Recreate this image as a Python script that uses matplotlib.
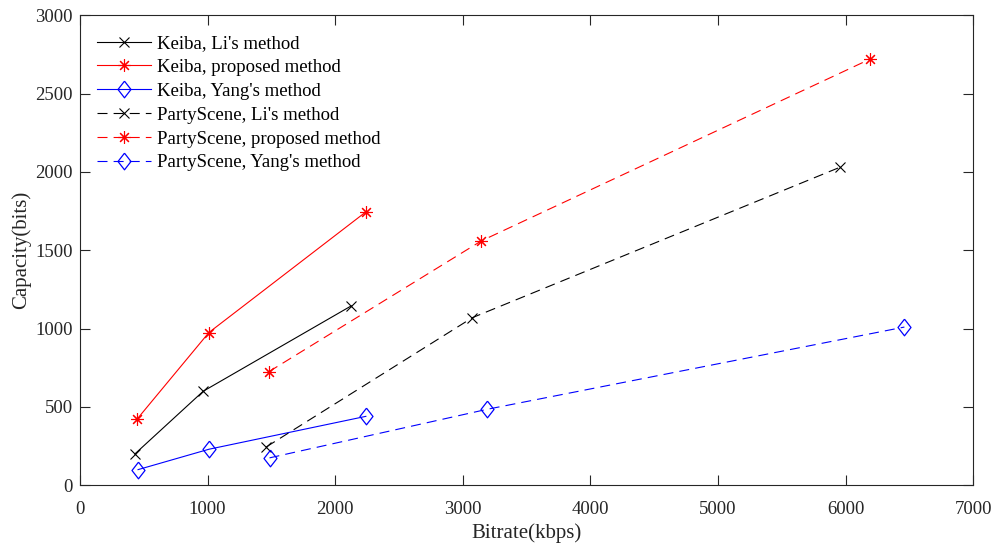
import matplotlib
matplotlib.use('Agg')
import matplotlib.pyplot as plt

# 数据
keiba_x_li = [430, 965, 2125]
keiba_y_li = [200, 600, 1145]
keiba_x_prop = [445, 1010, 2240]
keiba_y_prop = [420, 975, 1745]
keiba_x_yang = [455, 1010, 2240]
keiba_y_yang = [100, 230, 440]

party_x_li = [1460, 3075, 5955]
party_y_li = [245, 1070, 2030]
party_x_prop = [1480, 3145, 6190]
party_y_prop = [725, 1560, 2720]
party_x_yang = [1485, 3190, 6460]
party_y_yang = [175, 485, 1010]

x_ticks = [0, 1000, 2000, 3000, 4000, 5000, 6000, 7000]
y_ticks = [0, 500, 1000, 1500, 2000, 2500, 3000]

plt.rcParams['font.family'] = ['Liberation Serif', 'DejaVu Serif']
plt.rcParams['font.size'] = 13.5

diamond = [(0, 1), (0.78, 0), (0, -1), (-0.78, 0), (0, 1)]
star = (8, 2, 0)
dash = (0, (9, 5.5))
lw = 0.8
txt = '#262626'

fig = plt.figure(figsize=(9.95, 5.46), dpi=100)
ax = fig.add_axes([0.0804, 0.1112, 0.8978, 0.8608])

ax.plot(keiba_x_li, keiba_y_li, color='black', lw=lw, marker='x', ms=6.5, mew=0.8,
        label="Keiba, Li's method")
ax.plot(keiba_x_prop, keiba_y_prop, color='red', lw=lw, marker=star, ms=9, mew=0.8,
        label='Keiba, proposed method')
ax.plot(keiba_x_yang, keiba_y_yang, color='blue', lw=lw, marker=diamond, ms=12, mew=0.9,
        mfc='none', label="Keiba, Yang's method")
ax.plot(party_x_li, party_y_li, color='black', lw=lw, ls=dash, marker='x', ms=6.5, mew=0.8,
        label="PartyScene, Li's method")
ax.plot(party_x_prop, party_y_prop, color='red', lw=lw, ls=dash, marker=star, ms=9, mew=0.8,
        label='PartyScene, proposed method')
ax.plot(party_x_yang, party_y_yang, color='blue', lw=lw, ls=dash, marker=diamond, ms=12, mew=0.9,
        mfc='none', label="PartyScene, Yang's method")

ax.set_xlim(0, 7000)
ax.set_ylim(0, 3000)
ax.set_xticks(x_ticks)
ax.set_yticks(y_ticks)
ax.tick_params(direction='in', top=True, right=True, length=7.5, width=0.8,
               labelsize=13.5, colors=txt, labelcolor=txt)
ax.tick_params(axis='x', pad=11)
ax.tick_params(axis='y', pad=5)
for s in ax.spines.values():
    s.set_linewidth(0.8)
    s.set_color(txt)

ax.set_xlabel('Bitrate(kbps)', fontsize=15, color=txt, labelpad=4)
ax.set_ylabel('Capacity(bits)', fontsize=15, color=txt, labelpad=3)

ax.legend(loc='upper left', frameon=False, fontsize=13.5, handlelength=2.9,
          handletextpad=0.3, labelspacing=0.36, borderaxespad=0.4,
          bbox_to_anchor=(0.002, 0.99))

fig.savefig('out.png', dpi=100)
plt.close()
